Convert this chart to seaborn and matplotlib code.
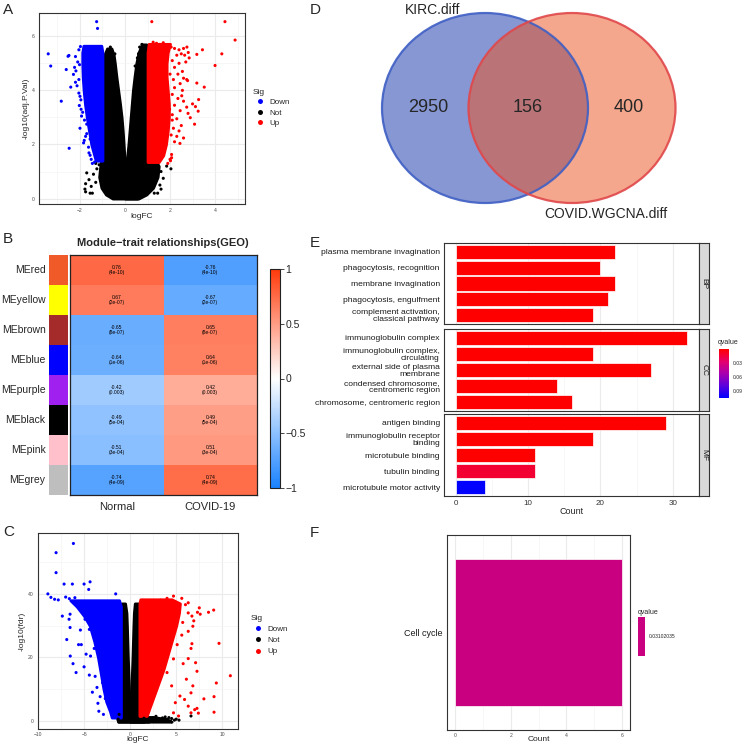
import numpy as np
import pandas as pd
import matplotlib
matplotlib.use('Agg')
import matplotlib.pyplot as plt
import seaborn as sns
from matplotlib.colors import LinearSegmentedColormap, ListedColormap, Normalize
from matplotlib.patches import Ellipse
from matplotlib.ticker import FixedLocator
from matplotlib.cm import ScalarMappable

sns.set_style('white')
plt.rcParams['font.family'] = ['Liberation Sans', 'DejaVu Sans']

# ======================= DATA =======================
sig_levels = ['Down', 'Not', 'Up']
sig_colors = ['#0000FF', '#000000', '#FF0000']

# ---- Panel A volcano (logFC vs -log10(adj.P.Val)) ----
# dense cores: y levels with left/right logFC bounds
a_nl_y = [0.0, 0.15, 0.4, 0.8, 1.2, 1.6, 2.0, 2.5, 3.0, 3.5, 4.0, 4.5, 5.0, 5.3, 5.55]
a_nl_lo = [-0.55, -0.85, -1.05, -1.15, -1.1, -1.02, -1.0, -1.0, -1.0, -1.0, -1.0, -1.0, -0.98, -0.92, -0.8]
a_nl_hi = [0.55, 0.4, 0.2, 0.05, 0.0, -0.03, -0.06, -0.1, -0.15, -0.22, -0.3, -0.38, -0.45, -0.5, -0.6]
a_nr_y = [0.0, 0.15, 0.4, 0.8, 1.2, 1.35, 1.6, 2.0, 2.5, 3.0, 3.5, 4.0, 4.5, 5.0, 5.4, 5.7]
a_nr_lo = [0.0, 0.0, 0.0, 0.0, 0.03, 0.05, 0.1, 0.15, 0.2, 0.25, 0.3, 0.35, 0.42, 0.5, 0.6, 0.75]
a_nr_hi = [0.6, 0.95, 1.25, 1.45, 1.5, 1.4, 1.0, 1.0, 1.0, 1.0, 1.0, 1.0, 1.0, 1.0, 0.98, 0.95]
a_dn_y = [1.4, 1.7, 2.0, 2.5, 3.0, 3.5, 4.0, 4.5, 5.0, 5.4, 5.65]
a_dn_lo = [-1.3, -1.4, -1.5, -1.6, -1.7, -1.78, -1.84, -1.88, -1.9, -1.9, -1.85]
a_dn_hi = [-1.0, -1.0, -1.0, -1.0, -1.0, -1.0, -1.0, -1.0, -1.0, -1.0, -1.05]
a_up_y = [1.35, 1.6, 2.0, 2.5, 3.0, 3.5, 4.0, 4.5, 5.0, 5.4, 5.72]
a_up_lo = [1.0, 1.0, 1.0, 1.0, 1.0, 1.0, 1.0, 1.0, 1.0, 1.0, 1.05]
a_up_hi = [1.5, 1.7, 1.82, 1.9, 1.95, 1.95, 1.9, 1.85, 1.85, 1.9, 2.0]
# individual points
a_dn_px = [-1.26, -1.22, -3.41, -3.30, -2.49, -2.53, -2.61, -2.24, -2.18, -2.29, -2.41, -2.13, -2.0, -2.83, -2.03, -2.48,
           -1.88, -1.8, -1.81, -1.84, -1.6, -1.55, -2.05, -2.2, -2.1, -2.05, -2.2, -2.05, -1.95, -2.0, -1.7, -1.75,
           -1.45, -1.5, -1.35, -1.62, -1.98, -2.02, -1.96, -1.93, -1.7, -1.55]
a_dn_py = [6.54, 6.29, 5.35, 4.90, 5.29, 5.26, 4.77, 4.85, 4.72, 4.59, 4.12, 4.17, 3.78, 3.60, 3.44, 1.86,
           3.19, 2.90, 2.15, 2.06, 1.69, 1.60, 5.50, 5.25, 5.05, 4.40, 4.30, 3.90, 3.30, 2.60, 2.40, 2.30,
           1.30, 1.45, 1.35, 1.90, 5.62, 4.95, 3.65, 3.05, 2.75, 2.20]
a_up_px = [1.19, 4.44, 4.89, 4.30, 4.00, 3.44, 3.19, 2.81, 3.52, 3.19, 2.74, 2.78, 3.27, 3.00, 3.13, 3.25, 2.74, 2.80,
           3.09, 2.90, 2.60, 2.44, 2.07, 2.07, 2.00, 2.30, 2.50, 2.10, 2.52, 2.05, 2.20, 2.40, 2.60, 2.75, 2.30, 2.50,
           2.65, 2.85, 2.10, 2.40, 2.70, 2.20, 2.55, 2.35, 2.60, 2.15, 2.45, 2.20, 2.55, 2.10, 2.35, 2.60, 2.20, 2.45,
           2.10, 2.30, 2.15, 2.40, 2.05, 2.20, 1.25, 1.4, 1.55, 1.7, 1.9, 2.02, 1.98, 2.0]
a_up_py = [6.54, 6.54, 5.86, 5.35, 4.92, 5.50, 5.33, 5.40, 4.12, 4.27, 4.40, 4.36, 3.66, 3.50, 3.40, 3.23, 3.38, 3.15,
           2.75, 2.99, 2.24, 2.04, 1.63, 1.51, 1.45, 2.30, 2.70, 2.90, 3.80, 5.60, 5.55, 5.50, 5.55, 5.60, 5.30, 5.35,
           5.30, 5.20, 5.10, 5.00, 5.05, 4.85, 4.70, 4.60, 4.45, 4.40, 4.25, 4.10, 4.00, 3.85, 3.70, 3.60, 3.45, 3.25,
           3.10, 2.95, 2.60, 2.50, 2.35, 2.10, 5.78, 5.74, 5.7, 5.76, 1.3, 1.4, 3.3, 4.6]
a_not_px = [-1.70, -1.75, -1.78, -1.75, -1.55, -1.45, -1.60, -1.40, -1.25, -1.30, -1.50, 1.60, 1.70, 1.55, 1.45,
            1.60, 2.04, 1.85, 1.30, -1.15, -1.30, -0.65, -0.70, -0.60, 0.65, 0.75, 0.55, 0.60, -0.45, 0.45]
a_not_py = [0.95, 0.55, 0.35, 0.25, 0.20, 0.20, 0.70, 0.90, 1.10, 0.60, 0.45, 1.00, 0.75, 0.50, 0.20,
            0.35, 1.10, 1.20, 0.20, 1.25, 1.30, 5.60, 5.45, 5.25, 5.60, 5.70, 5.20, 5.35, 5.35, 4.90]

# ---- Panel C volcano (logFC vs -log10(fdr)) ----
c_nl_y = [-0.3, 1.5, 4, 8, 12, 16, 20, 25, 30, 34, 37]
c_nl_lo = [-1.3, -1.15, -1.05, -1.0, -1.0, -1.0, -1.0, -1.0, -1.0, -1.0, -0.95]
c_nl_hi = [1.5, 0.3, 0.0, -0.1, -0.15, -0.2, -0.25, -0.3, -0.35, -0.4, -0.55]
c_nr_y = [-0.3, 1.5, 4, 8, 12, 16, 20, 25, 30, 34, 37]
c_nr_lo = [0.0, 0.0, 0.05, 0.1, 0.15, 0.2, 0.25, 0.3, 0.35, 0.4, 0.5]
c_nr_hi = [2.0, 1.2, 1.0, 1.0, 1.0, 1.0, 1.0, 1.0, 1.0, 1.0, 0.95]
c_nb_y = [-0.3, 0.5, 1.2]
c_nb_lo = [-1.3, -1.4, -1.2]
c_nb_hi = [4.5, 4.0, 2.5]
c_dn_y = [1.0, 3, 6, 10, 15, 20, 25, 30, 33, 36, 38]
c_dn_lo = [-2.0, -2.2, -2.6, -2.9, -3.2, -3.5, -3.9, -4.4, -5.0, -5.8, -6.5]
c_dn_hi = [-1.0, -1.0, -1.0, -1.0, -1.0, -1.0, -1.0, -1.0, -1.0, -1.0, -1.2]
c_up_y = [1.5, 4, 8, 12, 16, 20, 25, 30, 34, 37, 38.3]
c_up_lo = [1.0, 1.0, 1.0, 1.0, 1.0, 1.0, 1.0, 1.0, 1.0, 1.0, 1.1]
c_up_hi = [1.8, 2.1, 2.6, 3.1, 3.6, 4.0, 4.5, 5.0, 5.3, 5.4, 4.5]
c_dn_px = [-6.16, -8.04, -8.04, -8.93, -8.60, -8.20, -7.80, -7.17, -6.27, -5.00, -4.35, -4.50, -1.57, -7.36, -6.52,
           -6.63, -6.52, -6.88, -5.60, -5.30, -6.50, -6.20, -5.87, -5.00, -4.78, -4.30, -3.90, -4.43, -4.43, -4.20,
           -5.40, -5.20, -3.26, -7.0, -6.6, -6.0, -5.5, -4.8, -4.9, -3.8, -3.6, -3.5, -4.1, -3.4, -2.9, -3.0, -2.7]
c_dn_py = [55.9, 53.0, 46.7, 40.0, 38.9, 38.3, 38.1, 43.1, 43.1, 43.1, 43.8, 41.4, 40.0, 33.0, 33.6,
           32.0, 29.4, 25.6, 24.0, 24.0, 20.4, 18.0, 15.2, 17.0, 21.0, 20.4, 22.8, 14.4, 28.8, 30.6,
           28.6, 35.0, 7.6, 39.0, 38.5, 38.8, 37.5, 36.5, 32.0, 14.0, 10.5, 5.5, 9.0, 3.0, 2.0, 12.0, 7.0]
c_up_px = [9.06, 8.50, 7.60, 7.50, 7.30, 9.64, 10.87, 9.35, 8.00, 9.10, 9.10, 7.25, 7.40, 7.10, 7.25, 6.60,
           6.70, 6.60, 6.30, 5.75, 6.10, 6.80, 5.90, 5.40, 4.90, 6.30, 7.00, 6.60, 4.70, 5.25, 4.50, 4.00,
           4.70, 5.10, 5.60, 6.30, 6.80, 6.70, 6.30, 6.00, 5.60, 4.70, 4.00, 3.30, 6.30, 5.7, 6.9]
c_up_py = [34.9, 34.2, 33.6, 35.6, 34.2, 24.4, 14.2, 11.9, 6.9, 7.6, 2.7, 3.9, 2.4, 18.3, 15.6, 8.8,
           24.3, 22.8, 19.6, 18.0, 13.1, 11.0, 6.7, 7.8, 5.7, 4.6, 3.5, 2.5, 2.5, 1.5, 11.0, 15.2,
           19.5, 24.0, 27.0, 28.2, 29.8, 33.0, 34.0, 36.6, 38.6, 39.3, 38.6, 38.0, 37.2, 31.0, 31.5]
c_not_px = [1.5, 2.0, 2.5, 3.0, 3.5, 4.0, 4.5, 5.0, 5.3, 6.6, 4.8, 3.8, 2.8, 4.2, -1.3, -1.2]
c_not_py = [0.8, 0.5, 1.0, 0.6, 0.9, 0.4, 0.7, 0.5, 0.2, 1.5, 0.2, 1.2, 1.4, 1.0, 0.5, 2.0]

# ---- Panel B module-trait heatmap ----
modules = ['MEred', 'MEyellow', 'MEbrown', 'MEblue', 'MEpurple', 'MEblack', 'MEpink', 'MEgrey']
module_colors = ['#F05A28', '#FFFF00', '#A52A2A', '#0000FF', '#A020F0', '#000000', '#FFC0CB', '#BEBEBE']
traits = ['Normal', 'COVID-19']
cor_normal = [0.76, 0.67, -0.65, -0.64, -0.42, -0.49, -0.51, -0.74]
cor_covid = [-0.76, -0.67, 0.65, 0.64, 0.42, 0.49, 0.51, 0.74]
p_values = ['4e-10', '2e-07', '8e-07', '1e-06', '0.003', '5e-04', '3e-04', '4e-09']

# ---- Panel D Venn ----
venn_sets = ['KIRC.diff', 'COVID.WGCNA.diff']
venn_counts = [2950, 156, 400]

# ---- Panel E GO enrichment ----
go_groups = ['BP', 'CC', 'MF']
go_terms = {
    'BP': ['plasma membrane invagination', 'phagocytosis, recognition', 'membrane invagination',
           'phagocytosis, engulfment', 'complement activation,\nclassical pathway'],
    'CC': ['immunoglobulin complex', 'immunoglobulin complex,\ncirculating', 'external side of plasma\nmembrane',
           'condensed chromosome,\ncentromeric region', 'chromosome, centromeric region'],
    'MF': ['antigen binding', 'immunoglobulin receptor\nbinding', 'microtubule binding', 'tubulin binding',
           'microtubule motor activity'],
}
go_counts = {'BP': [22, 20, 22, 21, 19], 'CC': [32, 19, 27, 14, 16], 'MF': [29, 19, 11, 11, 4]}
go_qvalue = {'BP': [0.001, 0.001, 0.001, 0.001, 0.001], 'CC': [0.001, 0.001, 0.001, 0.001, 0.001],
             'MF': [0.001, 0.001, 0.001, 0.0135, 0.105]}
go_q_ticks = [0.03, 0.06, 0.09]

# ---- Panel F KEGG ----
kegg_terms = ['Cell cycle']
kegg_counts = [6]
kegg_qvalue = [0.03102035]

# ======================= LAYOUT =======================
W, H = 743, 745
fig = plt.figure(figsize=(W / 100, H / 100), dpi=100)


def px(l, t, r, b):
    return [l / W, 1 - b / H, (r - l) / W, (b - t) / H]


def label(x, y, s):
    fig.text(x / W, 1 - y / H, s, fontsize=11, ha='left', va='top')


def theme_bw(ax, lab=3.6):
    ax.set_facecolor('white')
    for s in ax.spines.values():
        s.set_visible(True)
        s.set_color('#333333')
        s.set_linewidth(0.8)
    ax.grid(True, which='major', color='#EBEBEB', lw=0.8)
    ax.grid(True, which='minor', color='#F3F3F3', lw=0.45)
    ax.set_axisbelow(True)
    ax.tick_params(which='major', colors='#333333', labelcolor='#4D4D4D', length=2, width=0.5,
                   labelsize=lab, pad=1.0)
    ax.tick_params(which='minor', length=0)


pt_size = 5
edge_lw = 2.0
grp_color = dict(zip(sig_levels, sig_colors))


def volcano(ax, fills, pts, ylabel):
    for grp, y, lo, hi in fills:
        ax.fill_betweenx(y, lo, hi, color=grp_color[grp], lw=edge_lw, joinstyle='round', zorder=2)
    df = pd.concat([pd.DataFrame({'logFC': x, 'y': yy, 'Sig': g}) for g, x, yy in pts], ignore_index=True)
    sns.scatterplot(data=df, x='logFC', y='y', hue='Sig', hue_order=sig_levels, palette=grp_color,
                    s=pt_size, linewidth=0, ax=ax, zorder=3)
    ax.set_xlabel('logFC', fontsize=6, labelpad=0)
    ax.set_ylabel(ylabel, fontsize=6, labelpad=2)


# ---- A ----
axA = fig.add_axes(px(39, 13, 245, 204))
theme_bw(axA)
volcano(axA,
        [('Not', a_nl_y, a_nl_lo, a_nl_hi), ('Not', a_nr_y, a_nr_lo, a_nr_hi),
         ('Down', a_dn_y, a_dn_lo, a_dn_hi), ('Up', a_up_y, a_up_lo, a_up_hi)],
        [('Not', a_not_px, a_not_py), ('Down', a_dn_px, a_dn_py), ('Up', a_up_px, a_up_py)],
        '-log10(adj.P.Val)')
axA.set_xlim(-3.82, 5.33)
axA.set_ylim(-0.2, 6.86)
axA.xaxis.set_major_locator(FixedLocator([-2, 0, 2, 4]))
axA.xaxis.set_minor_locator(FixedLocator([-3, -1, 1, 3, 5]))
axA.yaxis.set_major_locator(FixedLocator([0, 2, 4, 6]))
axA.yaxis.set_minor_locator(FixedLocator([1, 3, 5]))
sns.move_legend(axA, 'upper left', bbox_to_anchor=(1.02, 0.62), frameon=False, title='Sig',
                fontsize=5.8, title_fontsize=6, markerscale=1.6, handletextpad=0.1, labelspacing=0.35,
                borderaxespad=0, alignment='left')
label(3, 3, 'A')

# ---- B ----
axB = fig.add_axes(px(70, 255, 257, 495))
cbB = fig.add_axes(px(270, 269, 280, 488))
axS = fig.add_axes(px(49, 255, 68, 495))
cmapB = LinearSegmentedColormap.from_list('bwr_wgcna', ['#1A82FF', '#FFFFFF', '#FF3A0A'])
cor_df = pd.DataFrame({'Normal': cor_normal, 'COVID-19': cor_covid}, index=modules)
annot = np.array([[f'{a}\n({p})', f'{b}\n({p})'] for a, b, p in zip(cor_normal, cor_covid, p_values)])
sns.heatmap(cor_df, cmap=cmapB, vmin=-1, vmax=1, annot=annot, fmt='', annot_kws={'fontsize': 3.6, 'color': 'black'},
            ax=axB, cbar_ax=cbB, xticklabels=traits, yticklabels=False)
for s in axB.spines.values():
    s.set_visible(True)
    s.set_color('#222222')
    s.set_linewidth(0.9)
axB.tick_params(axis='x', length=0, pad=5, labelsize=8)
cbar = axB.collections[0].colorbar
cbar.set_ticks([-1, -0.5, 0, 0.5, 1])
cbar.set_ticklabels(['\u22121', '\u22120.5', '0', '0.5', '1'])
cbar.ax.tick_params(labelsize=7.5, length=3, width=0.6, pad=1)
cbar.outline.set_edgecolor('#222222')
cbar.outline.set_linewidth(0.8)
sns.heatmap(pd.DataFrame({'c': np.arange(len(modules))}, index=modules), cmap=ListedColormap(module_colors),
            cbar=False, ax=axS, xticklabels=False, yticklabels=modules)
axS.tick_params(axis='y', length=0, pad=2.5, labelsize=7.5, rotation=0)
axS.set_ylabel('')
fig.text(163 / W, 1 - 243 / H, 'Module\u2212trait relationships(GEO)', ha='center', va='center',
         fontsize=8, fontweight='bold')
label(3, 232, 'B')

# ---- C ----
axC = fig.add_axes(px(38, 533, 238, 729))
theme_bw(axC)
volcano(axC,
        [('Not', c_nl_y, c_nl_lo, c_nl_hi), ('Not', c_nr_y, c_nr_lo, c_nr_hi), ('Not', c_nb_y, c_nb_lo, c_nb_hi),
         ('Down', c_dn_y, c_dn_lo, c_dn_hi), ('Up', c_up_y, c_up_lo, c_up_hi)],
        [('Not', c_not_px, c_not_py), ('Down', c_dn_px, c_dn_py), ('Up', c_up_px, c_up_py)],
        '-log10(fdr)')
axC.set_xlim(-10.0, 11.7)
axC.set_ylim(-2.6, 59.2)
axC.xaxis.set_major_locator(FixedLocator([-10, -5, 0, 5, 10]))
axC.xaxis.set_minor_locator(FixedLocator([-7.5, -2.5, 2.5, 7.5]))
axC.yaxis.set_major_locator(FixedLocator([0, 20, 40]))
axC.yaxis.set_minor_locator(FixedLocator([10, 30, 50]))
axC.tick_params(axis='x', pad=0.5)
axC.xaxis.labelpad = -1
sns.move_legend(axC, 'upper left', bbox_to_anchor=(1.045, 0.60), frameon=False, title='Sig',
                fontsize=5.8, title_fontsize=6, markerscale=1.6, handletextpad=0.1, labelspacing=0.45,
                borderaxespad=0, alignment='left')
label(3, 525, 'C')

# ---- D Venn ----
axD = fig.add_axes(px(370, 0, 743, 230))
axD.set_xlim(370, 743)
axD.set_ylim(230, 0)
axD.axis('off')
axD.add_patch(Ellipse((485, 108), 206, 190, facecolor='#1131A9', alpha=0.5, edgecolor='none'))
axD.add_patch(Ellipse((572, 108), 207, 190, facecolor='#ED511D', alpha=0.5, edgecolor='none'))
axD.add_patch(Ellipse((485, 108), 206, 190, facecolor='none', edgecolor='#3F5FC4', lw=1.6, alpha=0.9))
axD.add_patch(Ellipse((572, 108), 207, 190, facecolor='none', edgecolor='#E0474A', lw=1.6, alpha=0.9))
for xpos, val in zip([428, 528, 629], venn_counts):
    axD.text(xpos, 108, str(val), ha='center', va='center', fontsize=13)
axD.text(405, 10, venn_sets[0], ha='left', va='center', fontsize=10)
axD.text(606, 214, venn_sets[1], ha='center', va='center', fontsize=10)
label(310, 3, 'D')

# ---- E GO barplot ----
cmapQ = LinearSegmentedColormap.from_list('q', ['#FF0000', '#E6006A', '#A800B0', '#5A00DD', '#0000FF'])
normQ = Normalize(0.001, 0.105)
panel_y = {'BP': (243, 324), 'CC': (329, 411), 'MF': (414, 496)}
for grp in go_groups:
    t, b = panel_y[grp]
    ax = fig.add_axes(px(444, t, 699, b))
    theme_bw(ax)
    df = pd.DataFrame({'term': go_terms[grp], 'Count': go_counts[grp]})
    pal = {term: cmapQ(normQ(q)) for term, q in zip(go_terms[grp], go_qvalue[grp])}
    sns.barplot(data=df, x='Count', y='term', hue='term', palette=pal, legend=False, orient='h',
                width=0.9, edgecolor='white', linewidth=0.5, ax=ax, saturation=1)
    ax.set_xlim(-1.6, 33.6)
    ax.set_ylim(4.56, -0.56)
    ax.xaxis.set_major_locator(FixedLocator([0, 10, 20, 30]))
    ax.xaxis.set_minor_locator(FixedLocator([5, 15, 25]))
    ax.set_ylabel('')
    ax.tick_params(axis='y', labelsize=6.1, labelcolor='#1A1A1A', length=2)
    for tl in ax.get_yticklabels():
        tl.set_multialignment('right')
        tl.set_linespacing(0.98)
    if grp == 'MF':
        ax.tick_params(axis='x', labelsize=5.8, labelcolor='#333333')
        ax.set_xlabel('Count', fontsize=6.5, labelpad=0)
    else:
        ax.tick_params(axis='x', labelbottom=False, length=0)
        ax.set_xlabel('')
    sax = fig.add_axes(px(699, t, 709, b))
    sax.set_facecolor('#D9D9D9')
    sax.set_xticks([])
    sax.set_yticks([])
    for s in sax.spines.values():
        s.set_color('#333333')
        s.set_linewidth(0.8)
    sax.text(0.5, 0.5, grp, rotation=270, ha='center', va='center', fontsize=6, color='#1A1A1A',
             transform=sax.transAxes)
cqa = fig.add_axes(px(719, 349, 729, 398))
cbE = fig.colorbar(ScalarMappable(norm=normQ, cmap=cmapQ), cax=cqa)
cqa.invert_yaxis()
cbE.set_ticks(go_q_ticks)
cbE.set_ticklabels([f'{v:.2f}' for v in go_q_ticks])
cbE.outline.set_visible(False)
cqa.tick_params(labelsize=3.6, length=1.5, width=0.5, color='white', pad=1.5)
fig.text(718 / W, 1 - 343 / H, 'qvalue', fontsize=5, ha='left', va='center')
label(310, 236, 'E')

# ---- F KEGG barplot ----
axF = fig.add_axes(px(447, 535, 630, 730))
theme_bw(axF)
dfF = pd.DataFrame({'term': kegg_terms, 'Count': kegg_counts})
colF = '#C9007F'
sns.barplot(data=dfF, x='Count', y='term', orient='h', color=colF, saturation=1, width=0.9,
            edgecolor='white', linewidth=0.5, ax=axF)
axF.set_xlim(-0.3, 6.3)
axF.set_ylim(0.6, -0.6)
axF.xaxis.set_major_locator(FixedLocator([0, 2, 4, 6]))
axF.xaxis.set_minor_locator(FixedLocator([1, 3, 5]))
axF.set_ylabel('')
axF.tick_params(axis='x', pad=0.3)
axF.set_xlabel('Count', fontsize=6.0, labelpad=-1.8)
axF.tick_params(axis='y', labelsize=6.5, labelcolor='#1A1A1A', length=2)
cfa = fig.add_axes(px(638, 617, 645, 656))
cfa.set_facecolor(colF)
for s in cfa.spines.values():
    s.set_visible(False)
cfa.set_xticks([])
cfa.set_ylim(0, 1)
cfa.yaxis.tick_right()
cfa.set_yticks([0.5])
cfa.set_yticklabels([f'{kegg_qvalue[0]:.8f}'])
cfa.tick_params(axis='y', labelsize=3.6, length=1.5, width=0.5, color='white', pad=1.5)
fig.text(638 / W, 1 - 612 / H, 'qvalue', fontsize=5, ha='left', va='center')
label(310, 526, 'F')

fig.savefig('out.png', dpi=100, facecolor='white')
